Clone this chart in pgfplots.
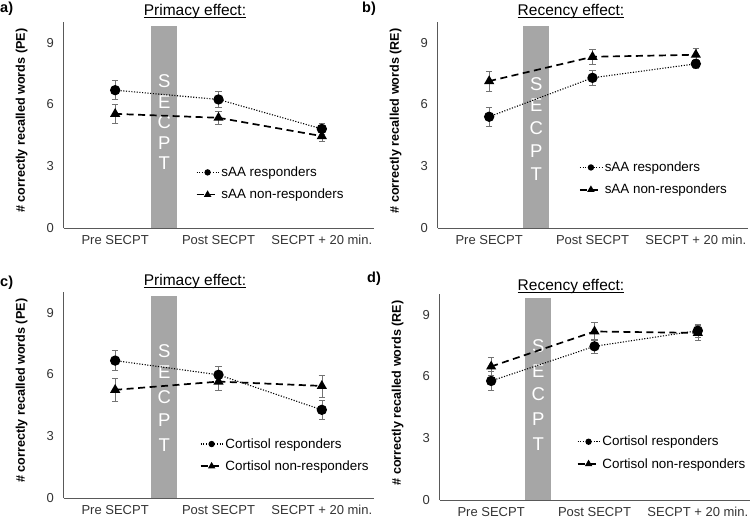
\documentclass[border=0pt]{standalone}
\usepackage{fontspec}
\setmainfont{Liberation Sans}
\usepackage{pgfplots}
\pgfplotsset{compat=1.18}
\tikzset{letter/.style={text=white, font=\fontsize{18.5}{20}\selectfont, inner sep=0pt}}
\newcommand\ul[1]{\setbox0\hbox{#1}\rlap{\rule[-2.6pt]{\wd0}{0.9pt}}\box0}
\begin{document}
\begin{tikzpicture}[x=1pt,y=1pt]
\path[use as bounding box] (0,0) rectangle (750,521);
\pgfplotsset{
 panel/.style={
  scale only axis, width=310pt, height=206pt,
  xmin=-0.5, xmax=2.5, ymin=0, ymax=10,
  axis x line=bottom, axis y line=left,
  axis line style={-, draw=black!65, line width=0.8pt},
  xtick={0,1,2}, xticklabels={Pre SECPT, Post SECPT, SECPT + 20 min.},
  ytick={0,3,6,9},
  major tick length=0pt,
  tick label style={font=\fontsize{13}{15}\selectfont, text=black!80},
  /pgf/number format/assume math mode=true,
  xticklabel style={yshift=-4pt},
  yticklabel style={xshift=-6pt},
  every axis y label/.style={at={(axis description cs:-0.135,0.52)}, rotate=90, anchor=center, font=\bfseries\fontsize{12.6}{14}\selectfont},
  legend style={draw=none, fill=none, font=\fontsize{13.4}{15}\selectfont, anchor=west, row sep=7pt, inner sep=0pt},
  legend cell align=left,
  legend image code/.code={\draw[mark repeat=2,mark phase=2,##1,mark size=2.6pt] plot coordinates {(0pt,0pt)(11pt,0pt)(22pt,0pt)};},
  clip=false,
 },
 resp/.style={black, line width=1.1pt, dash pattern=on 1.1pt off 1.6pt, mark=*, mark size=4.6pt, mark options={solid}},
 nonresp/.style={black, line width=1.7pt, dash pattern=on 7pt off 4.5pt, mark=triangle*, mark size=4.2pt, mark options={solid}},
 eb/.style={error bars/.cd, y dir=both, y explicit, error bar style={black!55, line width=0.6pt, solid}, error mark options={rotate=90, black!55, mark size=3.2pt, line width=0.6pt, solid}},
 bar/.style={fill=black!35, draw=none, forget plot},
}
% ---------- a)
\begin{axis}[panel, at={(63.5pt,293pt)}, anchor=south west,
  ylabel={\# correctly recalled words (PE)},
  legend style={at={(axis description cs:0.426,0.216)}}]
\addplot[bar] coordinates {(0.35,9.8) (0.6,9.8)} \closedcycle;
\node[letter] at (axis cs:0.475,7.13) {S};
\node[letter] at (axis cs:0.475,6.13) {E};
\node[letter] at (axis cs:0.475,5.14) {C};
\node[letter] at (axis cs:0.475,4.13) {P};
\node[letter] at (axis cs:0.475,3.16) {T};
\addplot[resp, eb] coordinates {(0,6.69) +- (0,0.46) (1,6.24) +- (0,0.40) (2,4.81) +- (0,0.28)};
\addplot[nonresp, eb] coordinates {(0,5.54) +- (0,0.48) (1,5.35) +- (0,0.30) (2,4.46) +- (0,0.25)};
\legend{sAA responders, sAA non-responders}
\end{axis}
% ---------- b)
\begin{axis}[panel, at={(437.5pt,293pt)}, anchor=south west,
  ylabel={\# correctly recalled words (RE)},
  legend style={at={(axis description cs:0.456,0.24)}}]
\addplot[bar] coordinates {(0.33,9.8) (0.58,9.8)} \closedcycle;
\node[letter] at (axis cs:0.455,6.97) {S};
\node[letter] at (axis cs:0.455,5.95) {E};
\node[letter] at (axis cs:0.455,4.86) {C};
\node[letter] at (axis cs:0.455,3.73) {P};
\node[letter] at (axis cs:0.455,2.60) {T};
\addplot[resp, eb] coordinates {(0,5.40) +- (0,0.46) (1,7.29) +- (0,0.38) (2,7.97) +- (0,0.20)};
\addplot[nonresp, eb] coordinates {(0,7.13) +- (0,0.48) (1,8.31) +- (0,0.34) (2,8.41) +- (0,0.32)};
\legend{sAA responders, sAA non-responders}
\end{axis}
% ---------- c)
\begin{axis}[panel, at={(63.5pt,23pt)}, anchor=south west,
  ylabel={\# correctly recalled words (PE)},
  legend style={at={(axis description cs:0.439,0.208)}}]
\addplot[bar] coordinates {(0.35,9.8) (0.6,9.8)} \closedcycle;
\node[letter] at (axis cs:0.475,7.14) {S};
\node[letter] at (axis cs:0.475,6.09) {E};
\node[letter] at (axis cs:0.475,4.88) {C};
\node[letter] at (axis cs:0.475,3.80) {P};
\node[letter] at (axis cs:0.475,2.58) {T};
\addplot[resp, eb] coordinates {(0,6.67) +- (0,0.48) (1,5.98) +- (0,0.42) (2,4.28) +- (0,0.47)};
\addplot[nonresp, eb] coordinates {(0,5.25) +- (0,0.58) (1,5.65) +- (0,0.44) (2,5.44) +- (0,0.54)};
\legend{Cortisol responders, Cortisol non-responders}
\end{axis}
% ---------- d)
\begin{axis}[panel, at={(439.5pt,21pt)}, anchor=south west,
  ylabel={\# correctly recalled words (RE)},
  legend style={at={(axis description cs:0.442,0.229)}}]
\addplot[bar] coordinates {(0.33,9.8) (0.58,9.8)} \closedcycle;
\node[letter] at (axis cs:0.455,7.46) {S};
\node[letter] at (axis cs:0.455,6.27) {E};
\node[letter] at (axis cs:0.455,5.13) {C};
\node[letter] at (axis cs:0.455,3.94) {P};
\node[letter] at (axis cs:0.455,2.69) {T};
\addplot[resp, eb] coordinates {(0,5.78) +- (0,0.46) (1,7.46) +- (0,0.35) (2,8.22) +- (0,0.30)};
\addplot[nonresp, eb] coordinates {(0,6.48) +- (0,0.45) (1,8.18) +- (0,0.45) (2,8.11) +- (0,0.37)};
\legend{Cortisol responders, Cortisol non-responders}
\end{axis}
% ---------- titles and panel letters
\node[anchor=base, font=\fontsize{15.5}{18}\selectfont] at (195,505.5) {\ul{Primacy effect:}};
\node[anchor=base, font=\fontsize{15.5}{18}\selectfont] at (571,505.5) {\ul{Recency effect:}};
\node[anchor=base, font=\fontsize{15.5}{18}\selectfont] at (195,235.5) {\ul{Primacy effect:}};
\node[anchor=base, font=\fontsize{15.5}{18}\selectfont] at (571,230.5) {\ul{Recency effect:}};
\node[anchor=base west, inner sep=0pt, font=\bfseries\fontsize{14.5}{17}\selectfont] at (0,508) {a)};
\node[anchor=base west, inner sep=0pt, font=\bfseries\fontsize{14.5}{17}\selectfont] at (362,508) {b)};
\node[anchor=base west, inner sep=0pt, font=\bfseries\fontsize{14.5}{17}\selectfont] at (0,234) {c)};
\node[anchor=base west, inner sep=0pt, font=\bfseries\fontsize{14.5}{17}\selectfont] at (367,238) {d)};
\end{tikzpicture}
\end{document}
